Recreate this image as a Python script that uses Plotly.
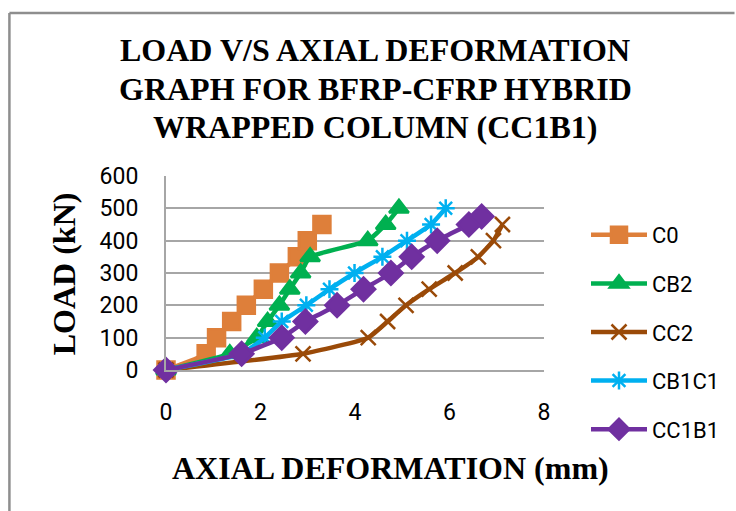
import plotly.graph_objects as go

# ---- data ----
c0_x = [0, 0.85, 1.07, 1.39, 1.70, 2.06, 2.40, 2.78, 2.99, 3.30]
c0_y = [0, 50, 100, 150, 200, 250, 300, 350, 400, 450]

cb2_x = [0, 1.35, 1.92, 2.15, 2.40, 2.62, 2.85, 3.05, 4.27, 4.65, 4.93]
cb2_y = [0, 50, 100, 150, 200, 250, 300, 350, 400, 450, 500]

cc2_x = [0, 2.90, 4.28, 4.69, 5.08, 5.57, 6.12, 6.61, 6.93, 7.12]
cc2_y = [0, 50, 100, 150, 200, 250, 300, 350, 400, 450]

cb1c1_x = [0, 1.60, 2.09, 2.45, 2.97, 3.46, 3.99, 4.58, 5.10, 5.61, 5.92]
cb1c1_y = [0, 50, 100, 150, 200, 250, 300, 350, 400, 450, 500]

cc1b1_x = [0, 1.60, 2.45, 2.95, 3.62, 4.18, 4.76, 5.20, 5.74, 6.41, 6.68]
cc1b1_y = [0, 50, 100, 150, 200, 250, 300, 350, 400, 450, 475]

x_ticks = [0, 2, 4, 6, 8]
y_ticks = [0, 100, 200, 300, 400, 500, 600]

title_lines = ["LOAD V/S AXIAL DEFORMATION",
               "GRAPH FOR BFRP-CFRP HYBRID",
               "WRAPPED COLUMN (CC1B1)"]

# ---- layout geometry (pixels) ----
W, H = 736, 511
L, R, T, B = 166, 191, 176, 141
PW, PH = W - L - R, H - T - B


def px_x(p):
    return (p - L) / PW


def px_y(p):
    return (H - B - p) / PH


series = [
    ("C0", c0_x, c0_y, "#DE7F3A", "square", 17),
    ("CB2", cb2_x, cb2_y, "#00B050", "triangle-up", 17),
    ("CC2", cc2_x, cc2_y, "#9A4A08", "x-thin-open", 15),
    ("CB1C1", cb1c1_x, cb1c1_y, "#00B0F0", "asterisk-open", 15),
    ("CC1B1", cc1b1_x, cc1b1_y, "#7030A0", "diamond", 18),
]

fig = go.Figure()
for name, xs, ys, col, sym, sz in series:
    fig.add_trace(go.Scatter(
        x=xs, y=ys, name=name, mode="lines+markers",
        line=dict(color=col, width=4.5, shape="spline", smoothing=0.4),
        marker=dict(symbol=sym, size=sz, color=col,
                    line=dict(color=col, width=2.5)),
        cliponaxis=False, legendgroup=name,
    ))

title_font = dict(family="Liberation Serif", size=32, color="black")
tick_font = dict(family="Roboto", size=23, color="black")

annotations = []
for i, line in enumerate(title_lines):
    annotations.append(dict(
        text="<b>" + line + "</b>", xref="paper", yref="paper",
        x=px_x(376), y=px_y(50 + 38.5 * i), xanchor="center", yanchor="middle",
        showarrow=False, font=title_font))
annotations += [
    dict(text="<b>AXIAL DEFORMATION (mm)</b>", xref="paper", yref="paper",
         x=px_x(391), y=px_y(468), xanchor="center", yanchor="middle",
         showarrow=False, font=title_font),
    dict(text="<b>LOAD (kN)</b>", xref="paper", yref="paper",
         x=px_x(64), y=px_y(274), xanchor="center", yanchor="middle",
         showarrow=False, textangle=-90, font=title_font),
]

frame = dict(color="#8E8E8E", width=2.5)

fig.update_layout(
    width=W, height=H,
    margin=dict(l=L, r=R, t=T, b=B, pad=0),
    paper_bgcolor="white", plot_bgcolor="white",
    showlegend=True,
    legend=dict(x=px_x(586), y=px_y(214), xanchor="left", yanchor="top",
                font=dict(family="Roboto", size=22, color="black"),
                itemwidth=56, tracegroupgap=17, maxheight=400,
                bgcolor="rgba(0,0,0,0)"),
    xaxis=dict(range=[0, 8], tickvals=x_ticks, showgrid=False, zeroline=False,
               showline=True, linecolor="#A6A6A6", linewidth=2,
               ticks="", tickfont=tick_font, ticklabelstandoff=20),
    yaxis=dict(range=[0, 600], tickvals=y_ticks, showgrid=True,
               gridcolor="#A6A6A6", gridwidth=2, zeroline=False,
               showline=True, linecolor="#A6A6A6", linewidth=2,
               ticks="", tickfont=tick_font, ticklabelstandoff=21),
    annotations=annotations,
    shapes=[
        dict(type="line", xref="paper", yref="paper",
             x0=px_x(9), x1=px_x(9), y0=px_y(13), y1=px_y(520),
             line=frame, layer="above"),
        dict(type="line", xref="paper", yref="paper",
             x0=px_x(9), x1=px_x(736), y0=px_y(13), y1=px_y(13),
             line=frame, layer="above"),
    ],
)

fig.write_html("out.html",
               config={"displayModeBar": False},
               post_script="document.body.style.margin='0px';document.body.style.overflow='hidden';")
